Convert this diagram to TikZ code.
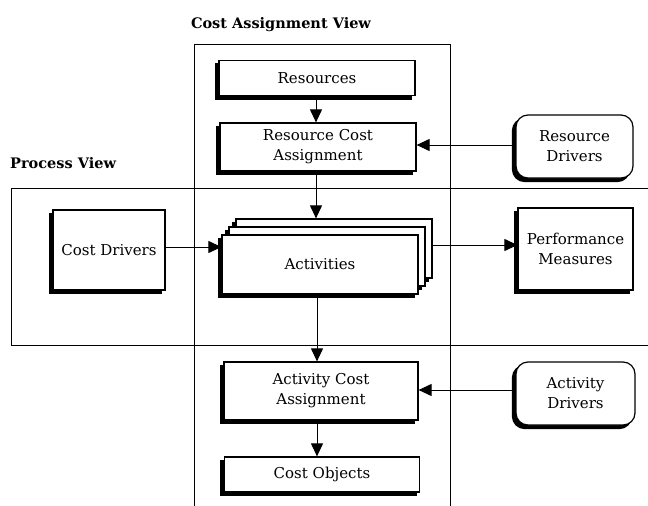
\documentclass[tikz,border=0pt]{standalone}
\usepackage{fontspec}
\setmainfont{DejaVu Serif}
\usetikzlibrary{arrows.meta,shadows}
\begin{document}
\begin{tikzpicture}[x=1pt,y=-1pt,
  box/.style={draw=black,line width=1.2pt,fill=white,rectangle,align=center,
    font=\fontsize{15}{20}\selectfont,inner sep=0pt,
    copy shadow={shadow xshift=-3.5pt,shadow yshift=-3.5pt,fill=black,draw=black}},
  rbox/.style={box,rounded corners=12pt},
  frame/.style={draw=black,line width=0.8pt},
  arr/.style={draw=black,line width=1pt,-{Triangle[length=13pt,width=12pt]}},
  title/.style={font=\fontsize{14.5}{17}\selectfont\bfseries,inner sep=0pt}]
\useasboundingbox (0,0) rectangle (648,506);
% frames
\draw[frame] (194,506) -- (194,44) -- (450,44) -- (450,506);
\draw[frame] (648,188) -- (11,188) -- (11,345) -- (648,345);
\node[title] (tca) at (281,25) {Cost Assignment View};
\node[title,anchor=west] (tpv) at (10,163) {Process View};
% boxes
\node[box,minimum width=196pt,minimum height=35pt] (res) at (317,78) {Resources};
\node[box,minimum width=196pt,minimum height=48pt] (rca) at (318,147) {Resource Cost\\Assignment};
\node[rbox,minimum width=117pt,minimum height=63pt] (rd) at (574.5,146.5) {Resource\\Drivers};
\node[box,minimum width=112pt,minimum height=80pt] (cd) at (109,250) {Cost Drivers};
\node[box,minimum width=196pt,minimum height=59pt] (act2) at (334,248.5) {};
\node[box,minimum width=196pt,minimum height=59pt] (act1) at (327,256.5) {};
\node[box,minimum width=196pt,minimum height=59pt] (act) at (320,264.5) {Activities};
\node[box,minimum width=115pt,minimum height=82pt] (pm) at (575.5,249) {Performance\\Measures};
\node[box,minimum width=194pt,minimum height=58pt] (aca) at (321,391) {Activity Cost\\Assignment};
\node[rbox,minimum width=119pt,minimum height=63pt] (ad) at (575.5,393.5) {Activity\\Drivers};
\node[box,minimum width=195pt,minimum height=35pt] (co) at (322,474.5) {Cost Objects};
% arrows
\draw[arr] (res.south -| 316,0) -- (316,0 |- rca.north);
\draw[arr] (rca.south -| 316,0) -- (316,0 |- act2.north);
\draw[arr] (cd.east |- 0,247) -- (act.west |- 0,247);
\draw[arr] (act2.east |- 0,245) -- (pm.west |- 0,245);
\draw[arr] (act.south -| 317,0) -- (317,0 |- aca.north);
\draw[arr] (aca.south -| 317,0) -- (317,0 |- co.north);
\draw[arr] (rd.west |- 0,145) -- (rca.east |- 0,145);
\draw[arr] (ad.west |- 0,390) -- (aca.east |- 0,390);
\end{tikzpicture}
\end{document}
